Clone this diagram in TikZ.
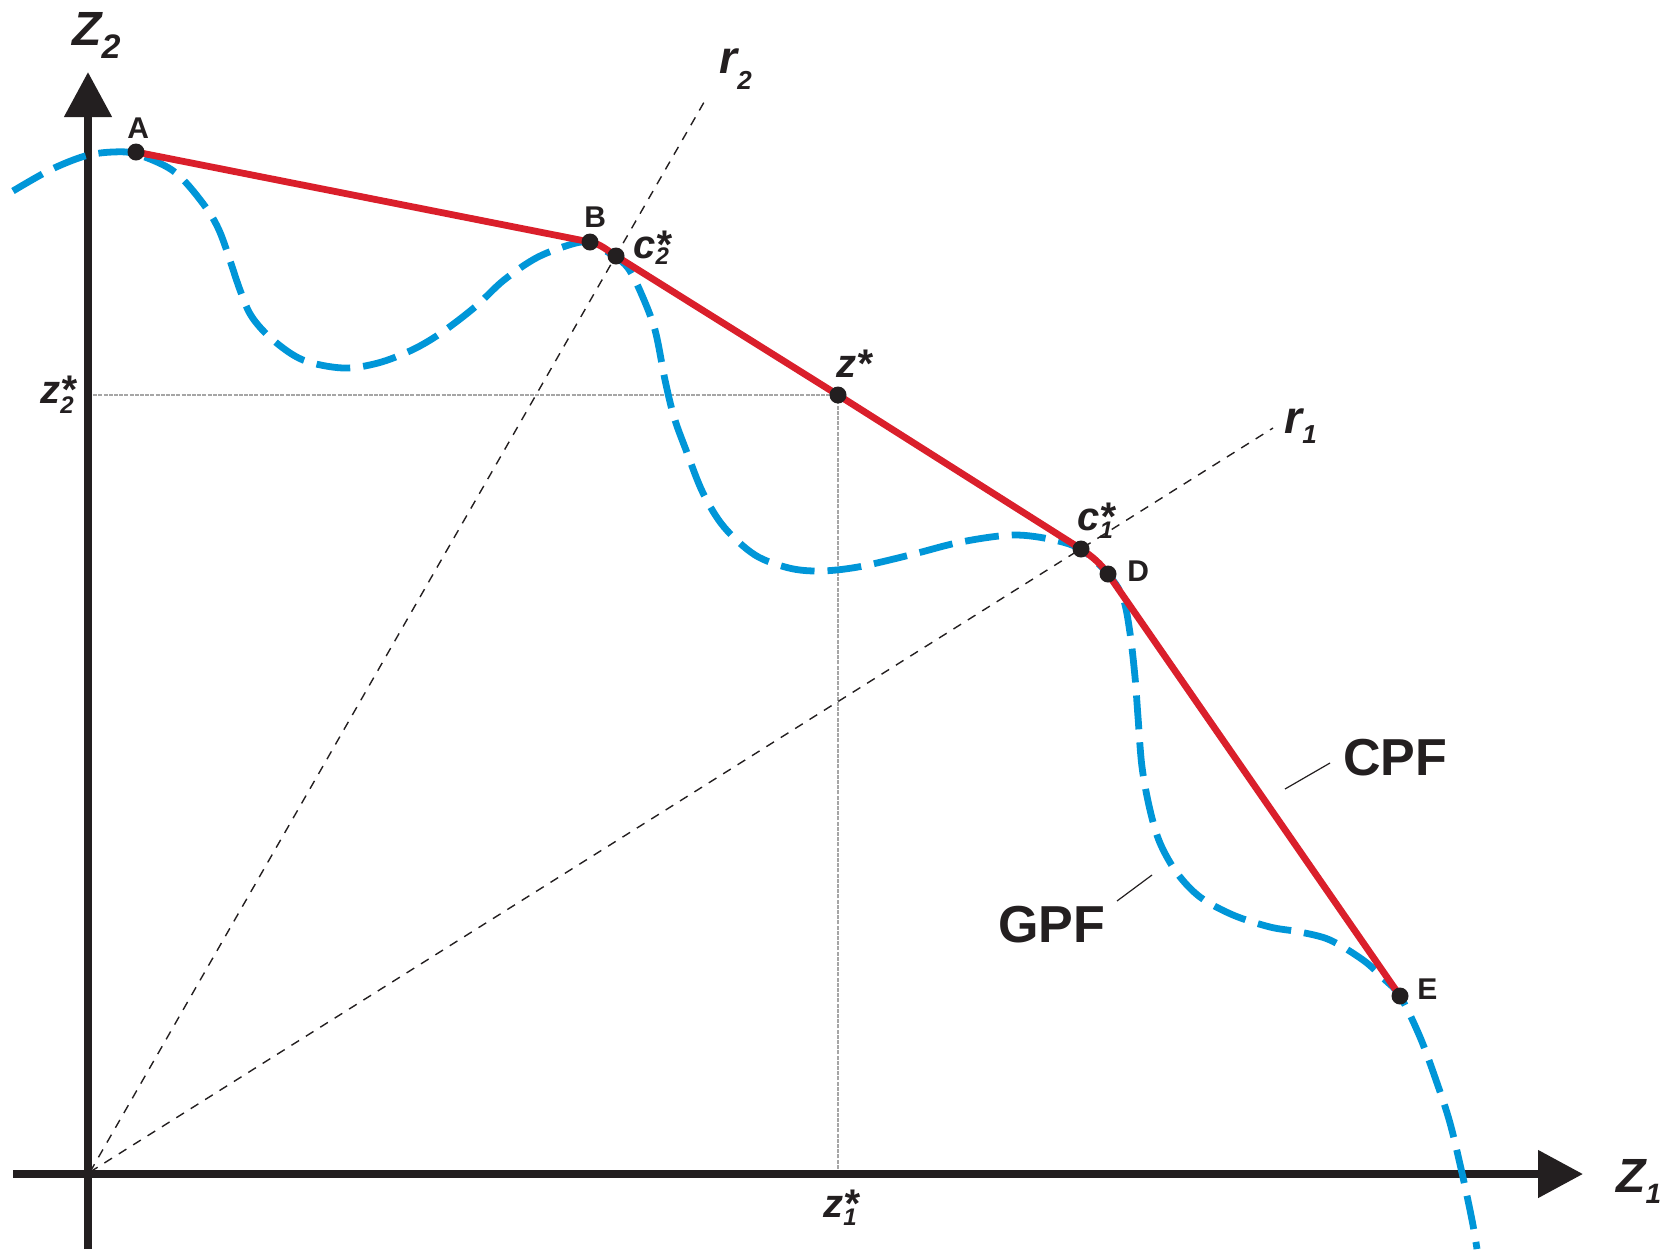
\documentclass[tikz,border=0pt]{standalone}
\usepackage{fontspec}
\setmainfont{Liberation Sans}
\usetikzlibrary{arrows.meta}
\definecolor{cpfred}{HTML}{DA1F2B}
\definecolor{gpfblue}{HTML}{0096D8}
\definecolor{ink}{HTML}{231F20}
\newcommand\fsz[1]{\fontsize{#1}{#1}\selectfont}
% base letter, star, subscript (font size, drop)
\newcommand\starlab[4]{#1\rlap{*}\raisebox{-#4}{\fsz{#3}#2}}
\newcommand\sublab[4]{#1\raisebox{-#4}{\fsz{#3}#2}}
\begin{document}
\begin{tikzpicture}[x=0.5pt,y=-0.5pt,
  axis/.style={line width=4pt, draw=ink, -{Triangle[length=22.5pt,width=23pt]}},
  cpf/.style={line width=3.4pt, draw=cpfred, line join=round},
  gpf/.style={line width=3.4pt, draw=gpfblue, dash pattern=on 17pt off 6.5pt},
  ray/.style={line width=0.7pt, draw=ink, dash pattern=on 4.5pt off 4pt},
  guide/.style={line width=0.6pt, draw=black!35, dash pattern=on 2pt off 0.6pt},
  leader/.style={line width=0.6pt, draw=ink},
  dot/.style={circle, fill=ink, inner sep=0pt, minimum size=8.5pt},
  ptlabel/.style={font=\bfseries\fsz{15}, text=ink, inner sep=0pt, anchor=base west},
  varlabel/.style={font=\bfseries\itshape\fsz{20}, text=ink, inner sep=0pt, anchor=base west},
  rlabel/.style={font=\bfseries\itshape\fsz{23}, text=ink, inner sep=0pt, anchor=base west},
  axlabel/.style={font=\bfseries\itshape\fsz{24}, text=ink, inner sep=0pt, anchor=base west},
  curvelabel/.style={font=\bfseries\fsz{26}, text=ink, inner sep=0pt, anchor=base west}]
\useasboundingbox (0,0) rectangle (1675,1249);

% key coordinates
\coordinate (O) at (90,1172);
\coordinate (A) at (136,152);
\coordinate (B) at (590,242);
\coordinate (C2) at (616,256);
\coordinate (Zs) at (838,395);
\coordinate (C1) at (1081,549);
\coordinate (D) at (1108,574);
\coordinate (E) at (1400,996);
\coordinate (Y2) at (88,395);
\coordinate (X1) at (838,1174);
\coordinate (R2end) at (707,97);
\coordinate (R1end) at (1273,428);
\coordinate (Ybot) at (88,1249);
\coordinate (Ytip) at (88,72);
\coordinate (Xleft) at (13,1174);
\coordinate (Xtip) at (1583,1174);

% guide lines
\draw[guide] (Y2) -- (Zs);
\draw[guide] (X1) -- (Zs);

% rays
\draw[ray] (O) -- (R2end);
\draw[ray] (O) -- (R1end);

% axes
\draw[axis] (Ybot) -- (Ytip);
\draw[axis] (Xleft) -- (Xtip);

% GPF curve
\draw[gpf] plot[smooth, tension=0.55] coordinates {
 (13,191) (50,170) (85,156) (113,152) (136,154) (172,170) (198,197)
 (219,230) (240,290) (252,317) (273,340) (303,360) (343,368) (378,363)
 (412,350) (441,333) (475,307) (504,280) (538,257) (576,243) (592,244)
 (614,256) (628,268) (641,293) (655,330) (665,380) (674,417) (686,450)
 (703,493) (724,527) (755,555) (789,568) (820,571) (858,567) (910,555)
 (961,542) (1013,535) (1054,540) (1082,550) (1108,574) (1123,598)
 (1130,633) (1135,677) (1138,717) (1142,767) (1150,810) (1160,843)
 (1177,873) (1200,897) (1233,915) (1270,927) (1300,932) (1330,940)
 (1363,960) (1383,978) (1400,996) (1420,1037) (1437,1083) (1450,1123)
 (1462,1173) (1472,1220) (1477,1249)};

% CPF polyline
\draw[cpf] (A) -- (B) .. controls (601,244) and (608,251) .. (C2) -- (Zs) -- (C1)
  .. controls (1093,557) and (1101,564) .. (D) -- (E);

% dots
\node[dot] (dA) at (A) {};
\node[dot] (dB) at (B) {};
\node[dot] (dC2) at (C2) {};
\node[dot] (dZs) at (Zs) {};
\node[dot] (dC1) at (C1) {};
\node[dot] (dD) at (D) {};
\node[dot] (dE) at (E) {};

% point labels
\node[ptlabel] (lA) at (127,138) {A};
\node[ptlabel] (lB) at (584,227) {B};
\node[ptlabel] (lD) at (1127,581) {D};
\node[ptlabel] (lE) at (1417,999) {E};

% variable labels
\node[varlabel] (lZs) at (836,377) {z*};
\node[varlabel] (lC2) at (633,258) {\starlab{c}{2}{12}{3pt}};
\node[varlabel] (lC1) at (1077,530) {\starlab{c}{1}{12}{4pt}};
\node[varlabel] (lZ2) at (40,403) {\starlab{z}{2}{12}{5pt}};
\node[varlabel] (lZ1) at (823,1217) {\starlab{z}{1}{12}{4pt}};
\node[rlabel] (lR2) at (719,73) {\sublab{r}{2}{13}{8pt}};
\node[rlabel] (lR1) at (1284,433) {\sublab{r}{1}{13}{5pt}};

% axis labels
\node[axlabel] (lAx2) at (72,45) {\sublab{Z}{2}{17}{6.5pt}};
\node[axlabel] (lAx1) at (1616,1192) {\sublab{Z}{\itshape 1}{14}{5.5pt}};

% curve labels with leaders
\node[curvelabel] (lCPF) at (1343,775) {CPF};
\node[curvelabel] (lGPF) at (998,942) {GPF};
\coordinate (cpfA) at (1285,789);
\coordinate (cpfB) at (1330,763);
\coordinate (gpfA) at (1117,901);
\coordinate (gpfB) at (1152,875);
\draw[leader] (cpfA) -- (cpfB);
\draw[leader] (gpfA) -- (gpfB);
\end{tikzpicture}
\end{document}
